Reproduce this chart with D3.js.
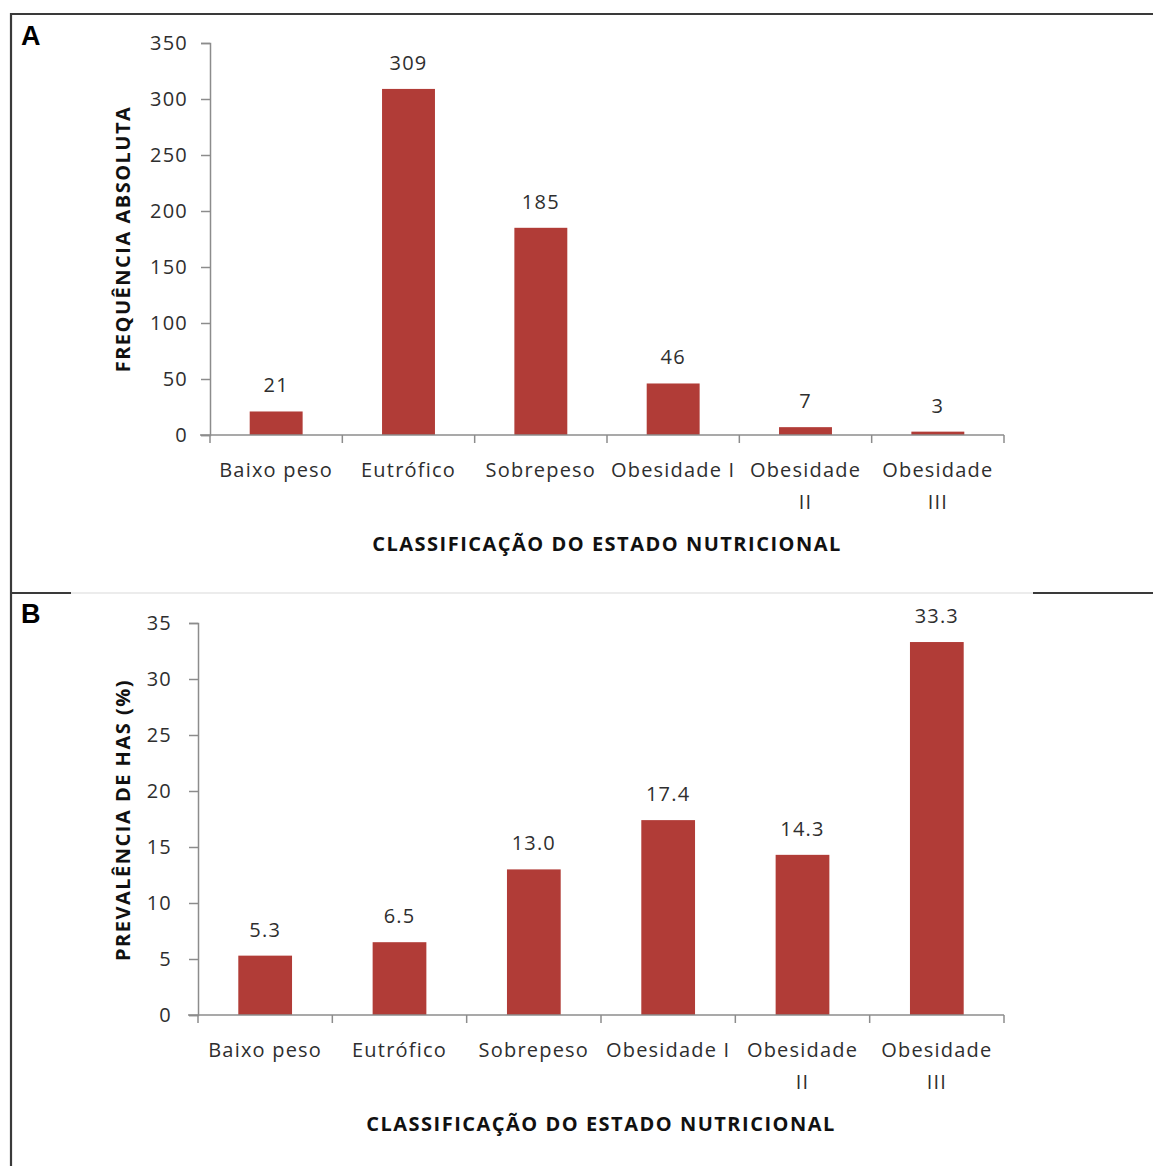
<!DOCTYPE html>
<html><head><meta charset="utf-8">
<script src="https://cdn.jsdelivr.net/npm/d3@7"></script>
<style>body{margin:0;background:#fff}</style>
</head><body>
<script>
const categories = ["Baixo peso","Eutrófico","Sobrepeso","Obesidade I","Obesidade II","Obesidade III"];
const catLines = [["Baixo peso"],["Eutrófico"],["Sobrepeso"],["Obesidade I"],["Obesidade","II"],["Obesidade","III"]];
const freqValues = [21,309,185,46,7,3];
const freqLabels = ["21","309","185","46","7","3"];
const freqTicks = [0,50,100,150,200,250,300,350];
const prevValues = [5.3,6.5,13.0,17.4,14.3,33.3];
const prevLabels = ["5.3","6.5","13.0","17.4","14.3","33.3"];
const prevTicks = [0,5,10,15,20,25,30,35];

const W = 1153, H = 1166;
const FONT = "'Open Sans', 'Noto Sans', sans-serif";
const BAR = "#b13c37";
const LS = "1.2px";
const svg = d3.select("body").append("svg").attr("width", W).attr("height", H);

// frame
const frame = svg.append("g").attr("stroke", "#3a3a3a").attr("stroke-width", 2.2);
frame.append("line").attr("x1", 10).attr("x2", W).attr("y1", 14).attr("y2", 14);
frame.append("line").attr("x1", 11).attr("x2", 11).attr("y1", 13).attr("y2", H);
frame.append("line").attr("x1", 10).attr("x2", 71).attr("y1", 593).attr("y2", 593);
frame.append("line").attr("x1", 1033).attr("x2", W).attr("y1", 593).attr("y2", 593);
svg.append("line").attr("x1", 71).attr("x2", 1033).attr("y1", 593).attr("y2", 593)
  .attr("stroke", "#ececec").attr("stroke-width", 2);

svg.append("text").attr("x", 21).attr("y", 45).text("A")
  .attr("font-family", "'Liberation Sans', Arial, sans-serif").attr("font-weight", "bold").attr("font-size", 27);
svg.append("text").attr("x", 21).attr("y", 623).text("B")
  .attr("font-family", "'Liberation Sans', Arial, sans-serif").attr("font-weight", "bold").attr("font-size", 27);

function panel(cfg) {
  const g = svg.append("g");
  const x = d3.scaleBand().domain(categories).range([cfg.x0, cfg.x1]).paddingInner(0.6).paddingOuter(0.3);
  const xb = d3.scaleLinear().domain([0, categories.length]).range([cfg.x0, cfg.x1]);
  const y = d3.scaleLinear().domain([0, cfg.max]).range([cfg.yBottom, cfg.yTop]);

  // y axis
  const ya = g.append("g").attr("transform", `translate(${cfg.x0},0)`)
    .call(d3.axisLeft(y).tickValues(cfg.ticks).tickSize(9).tickPadding(cfg.pad));
  ya.select(".domain").attr("stroke", "#8c8c8c").attr("stroke-width", 1.5);
  ya.selectAll(".tick line").attr("stroke", "#8c8c8c").attr("stroke-width", 1.5);
  ya.selectAll(".tick text").attr("font-family", FONT).attr("font-size", 20)
    .attr("letter-spacing", LS).attr("fill", "#2e2e2e");

  // bars
  g.selectAll("rect").data(cfg.values).enter().append("rect")
    .attr("x", (d, i) => x(categories[i]))
    .attr("width", x.bandwidth())
    .attr("y", d => y(d))
    .attr("height", d => y(0) - y(d))
    .attr("fill", BAR);

  // value labels
  g.selectAll("text.val").data(cfg.values).enter().append("text").attr("class", "val")
    .attr("x", (d, i) => x(categories[i]) + x.bandwidth() / 2)
    .attr("y", d => y(d) - 19)
    .attr("text-anchor", "middle")
    .attr("font-family", FONT).attr("font-size", 20).attr("letter-spacing", LS).attr("fill", "#2e2e2e")
    .text((d, i) => cfg.labels[i]);

  // x axis line and boundary ticks
  g.append("line").attr("x1", cfg.x0 - 10).attr("x2", cfg.x1).attr("y1", cfg.yBottom).attr("y2", cfg.yBottom)
    .attr("stroke", "#8c8c8c").attr("stroke-width", 1.5);
  g.selectAll("line.xt").data(d3.range(categories.length + 1)).enter().append("line").attr("class", "xt")
    .attr("x1", d => xb(d)).attr("x2", d => xb(d))
    .attr("y1", cfg.yBottom).attr("y2", cfg.yBottom + 8)
    .attr("stroke", "#8c8c8c").attr("stroke-width", 1.5);

  // category labels
  catLines.forEach((lines, i) => {
    const t = g.append("text").attr("text-anchor", "middle")
      .attr("font-family", FONT).attr("font-size", 20).attr("letter-spacing", LS).attr("fill", "#2e2e2e");
    lines.forEach((ln, j) => {
      t.append("tspan").attr("x", x(categories[i]) + x.bandwidth() / 2)
        .attr("y", cfg.yBottom + 42 + j * 32).text(ln);
    });
  });

  // axis titles
  g.append("text").attr("text-anchor", "middle")
    .attr("x", (cfg.x0 + cfg.x1) / 2).attr("y", cfg.yBottom + 116)
    .attr("font-family", FONT).attr("font-weight", "bold").attr("font-size", 20)
    .attr("letter-spacing", "1.5px").attr("fill", "#111")
    .text("CLASSIFICAÇÃO DO ESTADO NUTRICIONAL");
  g.append("text").attr("text-anchor", "middle")
    .attr("transform", `translate(${cfg.titleX},${cfg.titleY}) rotate(-90)`)
    .attr("font-family", FONT).attr("font-weight", "bold").attr("font-size", 20)
    .attr("letter-spacing", "1.5px").attr("fill", "#111")
    .text(cfg.title);
}

panel({x0: 210, x1: 1004, yTop: 43, yBottom: 435, max: 350, ticks: freqTicks, pad: 13,
  values: freqValues, labels: freqLabels, title: "FREQUÊNCIA ABSOLUTA", titleX: 130, titleY: 239});
panel({x0: 198, x1: 1004, yTop: 623, yBottom: 1015, max: 35, ticks: prevTicks, pad: 17,
  values: prevValues, labels: prevLabels, title: "PREVALÊNCIA DE HAS (%)", titleX: 130, titleY: 820});
</script>
</body></html>
